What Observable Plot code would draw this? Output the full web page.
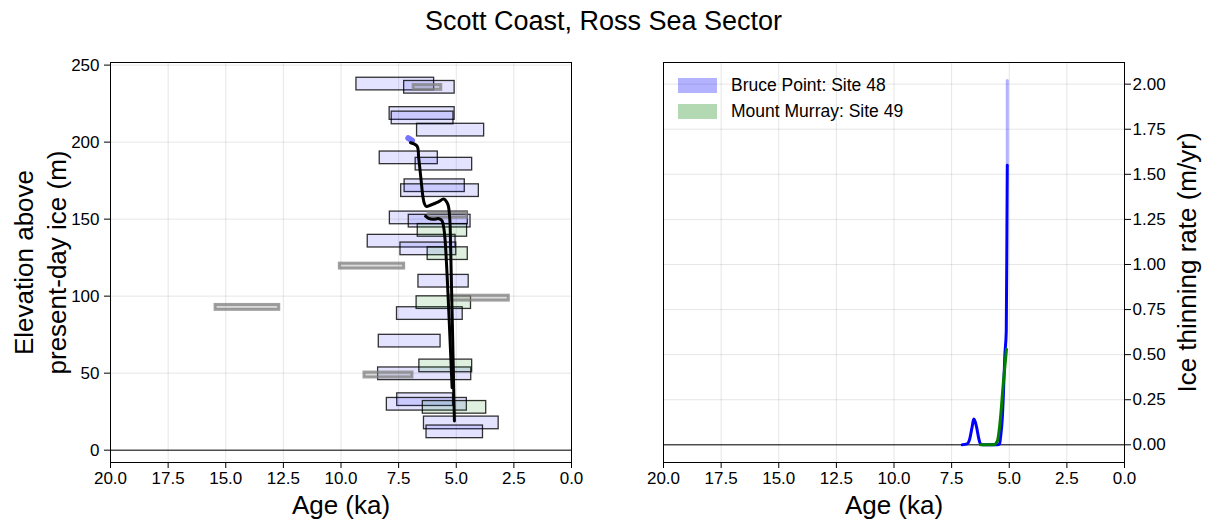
<!DOCTYPE html>
<html>
<head>
<meta charset="utf-8">
<script src="https://cdn.jsdelivr.net/npm/d3@7"></script>
<script src="https://cdn.jsdelivr.net/npm/@observablehq/plot@0.6"></script>
<style>
  body { margin: 0; background: #fff; font-family: "Liberation Sans", Arial, sans-serif; }
  #wrap { position: relative; width: 1207px; height: 526px; overflow: hidden; }
  #title { position: absolute; left: 0; top: 0; width: 1207px; height: 45px; line-height: 42px;
           text-align: center; font-size: 27px; color: #000; }
  #left { position: absolute; left: 0; top: 45px; }
  #right { position: absolute; left: 620px; top: 45px; }
  #legend { position: absolute; left: 678px; top: 72px; font-size: 17.5px; color: #000; }
  .row { display: flex; align-items: center; height: 26px; }
  .swatch { width: 39px; height: 15px; margin-right: 14px; }
</style>
</head>
<body>
<div id="wrap">
  <div id="title">Scott Coast, Ross Sea Sector</div>
  <div id="left"></div>
  <div id="right"></div>
  <div id="legend"></div>
</div>
<script>
// ---- Exposure ages: age range (ka) and sample elevation (m above present-day ice) ----
// Bruce Point, site 48
const site48Older   = [9.33, 7.26, 7.89, 7.80, 6.70, 8.32, 6.76, 7.24, 7.39, 7.88, 7.06, 8.84, 7.42, 6.64, 7.57, 8.36, 8.39, 7.56, 8.01, 6.40, 6.29];
const site48Younger = [5.96, 5.07, 5.07, 5.12, 3.79, 5.80, 4.31, 4.63, 4.02, 4.50, 4.38, 5.03, 5.00, 4.46, 4.72, 5.68, 4.35, 5.14, 4.54, 3.16, 3.84];
const site48Elev    = [237.7, 235.6, 218.6, 215.7, 207.8, 189.8, 185.7, 171.7, 168.5, 150.8, 148.7, 135.7, 130.7, 109.7, 88.7, 70.8, 49.6, 32.8, 29.8, 17.7, 11.9];
// Mount Murray, site 49
const site49Older   = [6.67, 6.24, 6.72, 6.60, 6.45];
const site49Younger = [4.53, 4.50, 4.36, 4.31, 3.70];
const site49Elev    = [142.7, 127.6, 95.8, 54.7, 27.8];
// Samples excluded from the thinning histories
const otherOlder    = [6.85, 10.05, 5.25, 8.98, 15.44, 6.19];
const otherYounger  = [5.65, 7.26, 2.72, 6.90, 12.68, 4.53];
const otherElev     = [235.5, 119.5, 98.7, 48.8, 92.7, 152.5];
const sampleElevErr = 4.1;   // m, sites 48 and 49
const otherElevErr  = 1.6;   // m, excluded samples

// ---- Modelled thinning histories (elevation vs age) ----
const hist48Age  = [6.98, 6.70, 6.63, 6.52, 6.45, 6.38, 6.30, 6.10, 5.80, 5.55, 5.45, 5.35, 5.28, 5.25, 5.08];
const hist48Elev = [199.6, 197.4, 189.8, 174.7, 165.0, 160.0, 158.3, 159.2, 161.0, 163.0, 162.0, 159.0, 150.0, 135.7, 19.0];
const hist48StartAge  = [7.08, 6.92];
const hist48StartElev = [202.6, 201.0];
const hist49Age  = [6.33, 6.20, 6.00, 5.75, 5.62, 5.54, 5.48, 5.18];
const hist49Elev = [151.9, 150.5, 149.9, 150.3, 149.0, 144.3, 135.7, 40.5];

// ---- Ice thinning rate (m/yr) ----
const rate48Age = [7.04, 6.83, 6.72, 6.61, 6.54, 6.48, 6.42, 6.33, 6.27, 6.17, 5.52, 5.42, 5.38, 5.30, 5.26, 5.19, 5.13, 5.10, 5.085];
const rate48    = [0.0, 0.005, 0.03, 0.10, 0.143, 0.13, 0.10, 0.04, 0.01, 0.0, 0.0, 0.005, 0.04, 0.15, 0.26, 0.50, 0.63, 1.20, 1.55];
const rate48BandAge = [5.085, 5.085];
const rate48Band    = [1.55, 2.02];
const rate49Age = [6.25, 5.67, 5.52, 5.38, 5.26, 5.12];
const rate49    = [0.0, 0.0, 0.02, 0.15, 0.34, 0.53];

// ---- Axis ticks ----
const ageTicks  = [20, 17.5, 15, 12.5, 10, 7.5, 5, 2.5, 0];
const elevTicks = [0, 50, 100, 150, 200, 250];
const rateTicks = [0, 0.25, 0.5, 0.75, 1, 1.25, 1.5, 1.75, 2];

const legendItems = ["Bruce Point: Site 48", "Mount Murray: Site 49"];
const seriesColors = ["blue", "green"];

// ---- Build tables ----
const boxes = (older, younger, elev, err) =>
  older.map((o, i) => ({older: o, younger: younger[i], low: elev[i] - err, high: elev[i] + err}));
const pts = (xs, ys) => xs.map((x, i) => ({x, y: ys[i]}));

const boxes48 = boxes(site48Older, site48Younger, site48Elev, sampleElevErr);
const boxes49 = boxes(site49Older, site49Younger, site49Elev, sampleElevErr);
const boxesOther = boxes(otherOlder, otherYounger, otherElev, otherElevErr);

const font = "Liberation Sans, Arial, Helvetica, sans-serif";
const gridStyle = {stroke: "#000", strokeOpacity: 0.1, strokeWidth: 1};

const left = Plot.plot({
  width: 620, height: 481,
  marginTop: 17, marginBottom: 64, marginLeft: 110, marginRight: 49,
  style: {fontFamily: font, fontSize: "17px", color: "#000", background: "#fff", overflow: "visible"},
  x: {domain: [20, 0]},
  y: {domain: [-8, 251.7]},
  marks: [
    Plot.gridX(ageTicks, gridStyle),
    Plot.gridY(elevTicks, gridStyle),
    Plot.ruleY([0], {stroke: "#000", strokeWidth: 1}),
    Plot.rect(boxes48, {x1: "older", x2: "younger", y1: "low", y2: "high",
      fill: "blue", fillOpacity: 0.11, stroke: "#000", strokeOpacity: 0.8, strokeWidth: 1.3}),
    Plot.rect(boxes49, {x1: "older", x2: "younger", y1: "low", y2: "high",
      fill: "green", fillOpacity: 0.12, stroke: "#000", strokeOpacity: 0.8, strokeWidth: 1.3}),
    Plot.rect(boxesOther, {x1: "older", x2: "younger", y1: "low", y2: "high",
      fill: "gray", fillOpacity: 0.3, stroke: "gray", strokeOpacity: 0.75, strokeWidth: 3}),
    Plot.line(pts(hist48StartAge, hist48StartElev), {x: "x", y: "y", stroke: "blue", strokeOpacity: 0.55, strokeWidth: 6}),
    Plot.line(pts(hist48Age, hist48Elev), {x: "x", y: "y", stroke: "#000", strokeWidth: 3, curve: "catmull-rom"}),
    Plot.line(pts(hist49Age, hist49Elev), {x: "x", y: "y", stroke: "#000", strokeWidth: 3, curve: "catmull-rom"}),
    Plot.frame({stroke: "#000", strokeWidth: 1}),
    Plot.axisX(ageTicks, {tickSize: 6, tickPadding: 3, tickFormat: d3.format(".1f"), label: null, fontSize: 17}),
    Plot.axisY(elevTicks, {tickSize: 6, tickPadding: 5, label: null, fontSize: 17}),
    Plot.text(["Age (ka)"], {text: d => d, frameAnchor: "bottom", dy: 43, lineAnchor: "middle", fontSize: 26}),
    Plot.text(["Elevation above\npresent-day ice (m)"], {text: d => d, frameAnchor: "left", dx: -72,
      rotate: -90, lineAnchor: "middle", textAnchor: "middle", fontSize: 26, lineHeight: 1.27})
  ]
});

const right = Plot.plot({
  width: 587, height: 481,
  marginTop: 17, marginBottom: 64, marginLeft: 43, marginRight: 83,
  style: {fontFamily: font, fontSize: "17px", color: "#000", background: "#fff", overflow: "visible"},
  x: {domain: [20, 0]},
  y: {domain: [-0.098, 2.12]},
  marks: [
    Plot.gridX(ageTicks, gridStyle),
    Plot.gridY(rateTicks, gridStyle),
    Plot.ruleY([0], {stroke: "#000", strokeWidth: 1}),
    Plot.line(pts(rate48BandAge, rate48Band), {x: "x", y: "y", stroke: "blue", strokeOpacity: 0.3, strokeWidth: 3}),
    Plot.line(pts(rate48Age, rate48), {x: "x", y: "y", stroke: "blue", strokeWidth: 3, curve: "monotone-x"}),
    Plot.line(pts(rate49Age, rate49), {x: "x", y: "y", stroke: "green", strokeWidth: 3, curve: "monotone-x"}),
    Plot.frame({stroke: "#000", strokeWidth: 1}),
    Plot.axisX(ageTicks, {tickSize: 6, tickPadding: 3, tickFormat: d3.format(".1f"), label: null, fontSize: 17}),
    Plot.axisY(rateTicks, {anchor: "right", tickSize: 6, tickPadding: 2, tickFormat: d3.format(".2f"), label: null, fontSize: 17}),
    Plot.text(["Age (ka)"], {text: d => d, frameAnchor: "bottom", dy: 43, lineAnchor: "middle", fontSize: 26}),
    Plot.text(["Ice thinning rate (m/yr)"], {text: d => d, frameAnchor: "right", dx: 63,
      rotate: -90, lineAnchor: "middle", textAnchor: "middle", fontSize: 26})
  ]
});

document.getElementById("left").appendChild(left);
document.getElementById("right").appendChild(right);

// Legend for the two sites (translucent patches, as drawn for the bands)
const legend = document.getElementById("legend");
legendItems.forEach((label, i) => {
  const row = document.createElement("div");
  row.className = "row";
  const sw = document.createElement("div");
  sw.className = "swatch";
  sw.style.background = seriesColors[i];
  sw.style.opacity = 0.3;
  const tx = document.createElement("span");
  tx.textContent = label;
  row.appendChild(sw);
  row.appendChild(tx);
  legend.appendChild(row);
});
</script>
</body>
</html>
